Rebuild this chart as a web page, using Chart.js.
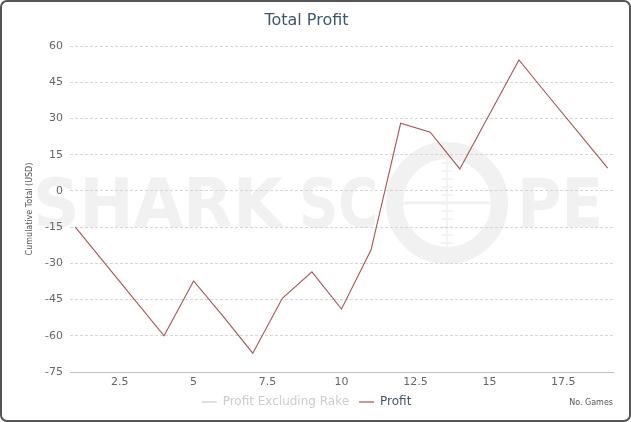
<!DOCTYPE html>
<html>
<head>
<meta charset="utf-8">
<script src="https://cdn.jsdelivr.net/npm/chart.js@4.4.0/dist/chart.umd.min.js"></script>
<style>
    body { margin: 0; background: #fff; }
    #contenedor { position: relative; width: 631px; height: 422px; }
    #marco {
        position: absolute; left: 0; top: 0; width: 631px; height: 422px;
        box-sizing: border-box; border: 2px solid #555; border-radius: 7px;
        pointer-events: none;
    }
</style>
</head>
<body>
<div id="contenedor">
    <canvas id="graficoProfit" width="631" height="422"></canvas>
    <div id="marco"></div>
</div>
<script>
// Datos
const partidas = [1, 2, 3, 4, 5, 6, 7, 8, 9, 10, 11, 12, 13, 14, 15, 16, 17, 18, 19];
const beneficio = [-15, -30, -45, -60, -37.3, -52, -67.2, -44.5, -33.5, -48.9, -24.4, 28, 24.3, 9.1, 31.6, 54.2, 39.2, 24.3, 9.4];
const beneficioSinRake = []; // serie oculta en la leyenda
const ticksX = [2.5, 5, 7.5, 10, 12.5, 15, 17.5];
const ticksY = [-75, -60, -45, -30, -15, 0, 15, 30, 45, 60];

const fuente = 'DejaVu Sans';

// Marca de agua "SHARK SCOPE" dibujada detrás de la rejilla
const marcaDeAgua = {
    id: 'marcaDeAgua',
    beforeDraw(chart) {
        const ctx = chart.ctx;
        ctx.save();
        ctx.fillStyle = '#f1f1f1';
        ctx.strokeStyle = '#f1f1f1';
        ctx.font = 'bold 68px "' + fuente + '"';
        ctx.textBaseline = 'alphabetic';
        ctx.textAlign = 'left';
        ctx.fillText('SHARK', 33, 227, 250);
        ctx.fillText('SC', 299, 227, 79);
        ctx.fillText('PE', 517, 227, 86);

        // la "O" con forma de mira
        const cx = 447, cy = 203;
        ctx.lineWidth = 17;
        ctx.beginPath();
        ctx.arc(cx, cy, 52.5, 0, Math.PI * 2);
        ctx.stroke();
        ctx.lineWidth = 3;
        ctx.beginPath();
        ctx.moveTo(cx - 45, cy);
        ctx.lineTo(cx + 45, cy);
        ctx.stroke();
        ctx.lineWidth = 1.5;
        ctx.beginPath();
        ctx.moveTo(cx, cy - 45);
        ctx.lineTo(cx, cy + 45);
        for (let d = -40; d <= 40; d += 8) {
            if (Math.abs(d) < 4) continue;
            ctx.moveTo(cx - 6, cy + d);
            ctx.lineTo(cx + 6, cy + d);
        }
        ctx.stroke();
        ctx.restore();
    }
};

function mostrarGraficoProfit() {
    const ctx = document.getElementById('graficoProfit').getContext('2d');
    new Chart(ctx, {
        type: 'line',
        data: {
            datasets: [{
                label: 'Profit Excluding Rake',
                data: beneficioSinRake,
                borderColor: '#4572A7',
                hidden: true
            }, {
                label: 'Profit',
                data: partidas.map((p, i) => ({ x: p, y: beneficio[i] })),
                borderColor: '#A85555',
                borderWidth: 1.1,
                pointRadius: 0,
                tension: 0
            }]
        },
        options: {
            responsive: false,
            animation: false,
            layout: { padding: { left: 0, right: 18, top: 0, bottom: 4 } },
            plugins: {
                title: {
                    display: true,
                    text: 'Total Profit',
                    color: '#3E576F',
                    font: { family: fuente, size: 16, weight: 'normal' },
                    padding: { top: 11, bottom: 15.8 }
                },
                legend: {
                    position: 'bottom',
                    onClick: null,
                    labels: {
                        font: { family: fuente, size: 12 },
                        usePointStyle: true,
                        pointStyleWidth: 15,
                        boxHeight: 10,
                        padding: 10,
                        generateLabels: (chart) => chart.data.datasets.map((ds, i) => {
                            const oculto = !chart.isDatasetVisible(i);
                            return {
                                text: ds.label,
                                fillStyle: oculto ? '#ccc' : ds.borderColor,
                                strokeStyle: oculto ? '#ccc' : ds.borderColor,
                                fontColor: oculto ? '#ccc' : '#3E576F',
                                lineWidth: 1.2,
                                pointStyle: 'line',
                                hidden: false,
                                datasetIndex: i
                            };
                        })
                    }
                },
                tooltip: { enabled: false }
            },
            scales: {
                x: {
                    type: 'linear',
                    min: 0.82,
                    max: 19.18,
                    afterBuildTicks: (eje) => { eje.ticks = ticksX.map(v => ({ value: v })); },
                    afterFit: (eje) => { eje.height = 14; },
                    grid: { display: false, drawTicks: false },
                    border: { display: true, color: '#c0c0c0', width: 1 },
                    ticks: {
                        color: '#666',
                        padding: 4,
                        maxRotation: 0,
                        font: { family: fuente, size: 11 },
                        callback: (v) => String(v)
                    },
                    title: {
                        display: true,
                        text: 'No. Games',
                        align: 'end',
                        color: '#555',
                        font: { family: fuente, size: 8 },
                        padding: { top: 0, bottom: -21.5 }
                    }
                },
                y: {
                    min: -75,
                    max: 60,
                    afterBuildTicks: (eje) => { eje.ticks = ticksY.map(v => ({ value: v })); },
                    afterFit: (eje) => { eje.width = 70; },
                    grid: {
                        color: '#d6d6d6',
                        lineWidth: 1,
                        drawTicks: false
                    },
                    border: { display: false, dash: [3, 2] },
                    ticks: {
                        color: '#666',
                        padding: 7,
                        font: { family: fuente, size: 11 },
                        callback: (v) => String(v)
                    },
                    title: {
                        display: true,
                        text: 'Cumulative Total (USD)',
                        color: '#555',
                        font: { family: fuente, size: 8 },
                        padding: { top: 25, bottom: 0 }
                    }
                }
            }
        },
        plugins: [marcaDeAgua]
    });
}

document.addEventListener('DOMContentLoaded', () => {
    mostrarGraficoProfit();
});
</script>
</body>
</html>
